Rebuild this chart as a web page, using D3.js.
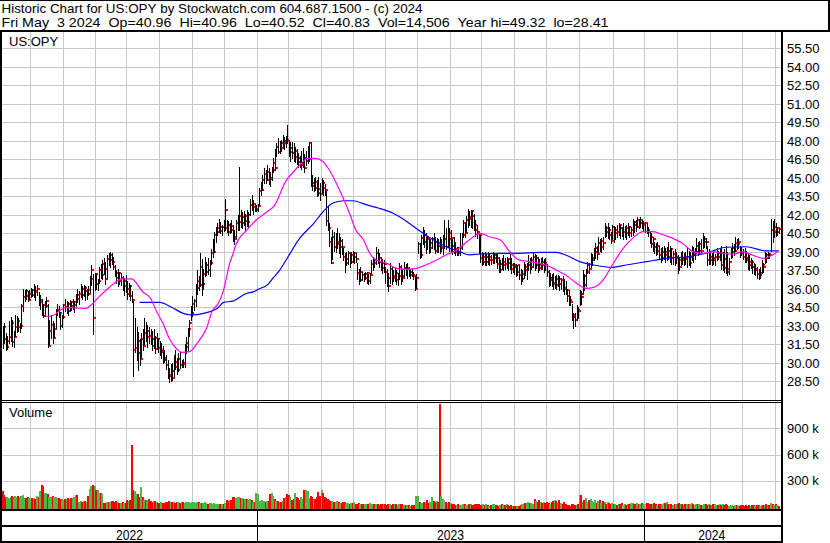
<!DOCTYPE html>
<html><head><meta charset="utf-8">
<script src="https://cdn.jsdelivr.net/npm/d3@7"></script>
<style>
html,body{margin:0;padding:0;background:#fff;}
svg{display:block;}
text{font-family:"Liberation Sans",Arial,sans-serif;fill:#000;}
</style></head><body>
<svg id="c" width="830" height="543"></svg>
<script>
// ---- data (daily bars, oldest first) ----
const highs=[
33.0,33.2,32.4,32.2,33.4,33.7,33.5,32.6,33.9,33.8,
33.6,33.2,34.8,36.0,35.9,36.0,35.8,35.9,36.1,36.0,
36.4,36.2,36.3,35.7,35.5,35.2,34.8,35.0,35.3,34.8,
33.5,33.9,33.4,33.2,34.4,34.8,34.6,34.1,33.9,34.8,
35.2,35.0,34.9,35.1,35.0,35.2,35.0,35.6,36.0,35.8,
36.4,36.2,36.3,36.2,36.0,36.2,37.0,37.9,37.2,37.3,
37.2,36.8,37.8,38.0,38.3,38.5,38.2,38.7,38.9,39.0,
38.9,38.6,37.9,37.5,37.6,37.4,37.3,37.0,36.9,37.1,
36.6,36.5,36.3,35.8,35.0,33.6,32.9,32.5,31.9,32.4,
32.7,33.6,33.3,33.1,32.9,32.7,32.6,32.7,32.2,32.4,
32.0,31.8,31.6,31.4,31.0,30.6,30.2,29.6,29.9,30.0,
30.6,31.0,30.4,30.8,30.9,30.2,30.3,31.5,32.1,32.8,
33.5,34.6,35.4,35.2,36.4,37.5,37.0,38.9,38.4,37.6,
38.6,38.2,38.5,38.3,39.2,40.0,40.6,41.0,41.3,41.7,
41.4,41.2,41.6,43.3,41.6,41.5,41.3,41.6,41.2,40.8,
41.6,42.0,45.9,42.4,42.2,42.3,42.1,42.4,42.2,43.3,
43.6,43.2,42.9,42.8,42.9,44.2,44.7,45.2,45.8,45.6,
46.0,45.8,45.5,45.9,46.6,47.3,47.8,48.2,48.0,48.1,
48.5,48.3,48.4,49.32,48.1,47.9,47.9,47.8,47.5,47.3,
47.0,46.8,47.2,47.4,46.9,47.2,47.6,47.9,47.9,45.2,
45.0,45.1,44.8,45.1,44.6,45.0,44.8,44.5,43.9,42.7,
41.3,40.2,40.8,40.6,40.5,40.9,40.5,40.2,40.0,39.3,
38.9,39.0,39.1,38.9,39.0,39.1,39.0,38.9,38.1,37.6,
37.8,37.4,37.3,37.4,37.4,37.2,37.3,38.3,38.6,38.5,
39.4,39.2,38.9,38.6,38.4,38.3,37.8,37.6,37.3,38.1,
37.8,37.5,37.7,37.5,37.3,38.1,37.9,37.6,38.2,38.0,
38.1,37.8,37.6,37.7,37.4,37.0,37.2,39.8,39.7,40.4,
41.0,40.8,40.5,40.2,40.1,40.0,40.2,40.5,40.2,40.1,
40.0,40.2,40.0,40.4,41.6,40.9,41.6,40.9,40.8,40.0,
40.2,39.8,39.4,39.4,40.5,40.5,41.6,41.4,41.9,42.5,
42.3,42.4,42.3,42.1,41.6,41.2,40.5,40.4,39.0,38.9,
39.0,38.8,39.0,38.9,38.7,39.0,38.9,38.8,38.9,38.6,
38.3,38.5,38.7,38.5,38.6,38.4,38.9,38.5,38.1,38.1,
38.0,37.9,37.9,37.6,37.5,38.2,38.0,38.1,38.7,38.5,
38.6,38.9,38.8,38.7,38.6,38.4,38.5,38.6,38.4,38.5,
38.0,37.5,37.3,37.2,37.3,37.0,37.1,37.1,37.0,36.9,
37.0,36.8,36.6,36.0,35.9,35.4,34.8,34.0,34.0,34.7,
34.5,35.9,35.8,37.5,37.2,37.6,38.2,38.1,38.9,38.8,
39.3,39.7,39.5,40.2,40.0,40.1,40.2,41.3,41.1,41.3,
41.0,40.6,41.2,41.1,41.0,41.2,41.3,41.2,41.0,41.3,
41.1,41.2,41.3,41.1,41.0,41.7,41.5,41.6,41.8,41.7,
41.8,41.6,41.5,41.4,41.3,41.0,40.6,40.5,40.2,39.8,
39.7,39.8,39.5,39.3,39.4,39.5,39.3,39.4,39.8,39.5,
39.3,39.1,39.2,39.0,38.7,38.6,39.0,39.1,38.9,39.0,
39.3,39.1,39.0,39.5,39.4,39.3,40.1,39.8,39.9,40.0,
40.5,40.3,40.1,39.5,39.2,39.1,38.9,39.0,38.8,39.3,
39.1,39.2,39.5,39.0,39.2,39.5,39.0,38.5,39.3,39.7,
39.6,40.2,40.0,40.1,39.5,39.4,39.2,39.3,39.1,38.9,
38.7,38.5,38.3,38.1,38.0,37.8,37.6,37.8,38.3,38.1,
39.0,38.9,39.0,38.9,41.7,41.5,41.7,41.3,41.0,40.96];
const lows=[
31.2,31.6,31.0,31.1,31.6,31.8,31.4,31.3,32.2,32.5,
32.6,32.5,32.8,34.2,35.0,35.2,35.0,35.2,35.3,35.4,
35.3,35.1,35.5,34.7,34.4,33.9,33.7,33.8,34.5,31.3,
31.5,32.0,31.6,32.1,32.8,33.9,33.7,32.7,32.9,33.6,
34.2,34.0,33.9,34.2,34.3,34.4,34.1,34.6,34.9,34.8,
35.3,35.2,35.4,35.1,35.2,35.5,35.7,36.3,32.3,35.9,
36.0,35.9,36.5,36.9,36.8,37.2,36.4,36.9,37.9,37.8,
38.0,37.6,37.0,36.5,36.2,36.4,36.3,35.9,35.5,35.7,
35.2,35.4,35.1,34.9,28.9,30.9,30.2,29.4,29.8,30.5,
31.0,31.5,31.8,31.3,31.6,31.5,31.0,31.2,30.8,31.1,
30.9,30.6,30.4,30.0,30.1,29.5,28.8,28.41,28.5,28.6,
28.9,29.5,29.1,29.3,29.6,29.7,29.7,29.7,30.8,31.0,
32.2,33.5,33.8,34.3,34.6,35.6,35.9,36.2,35.5,36.0,
37.0,37.1,37.2,37.0,38.0,38.6,39.0,39.8,40.4,40.6,
40.5,40.4,40.7,40.8,40.6,40.4,40.5,40.6,39.9,39.6,
40.1,40.8,40.8,41.0,40.9,41.2,40.8,41.1,41.0,42.0,
42.4,42.1,42.3,42.3,42.3,42.8,43.6,44.0,44.6,44.6,
44.8,44.5,44.3,44.8,45.5,45.6,46.8,47.0,47.0,47.2,
47.4,47.3,47.5,47.8,46.8,46.4,46.6,46.4,46.3,46.1,
45.9,45.9,45.7,45.9,45.5,46.0,46.2,46.4,44.3,44.0,
43.9,44.0,43.5,43.6,43.2,43.8,43.6,43.6,41.2,40.8,
39.5,38.1,38.4,39.1,39.0,39.3,38.9,38.6,38.8,38.3,
37.4,37.9,38.0,37.8,38.1,38.2,38.1,38.2,36.8,36.4,
36.6,36.7,36.6,36.8,36.5,36.4,36.5,37.3,37.5,37.8,
38.0,38.1,37.8,37.5,37.3,37.4,36.5,36.2,35.8,36.5,
36.4,36.6,36.6,36.4,36.3,36.8,36.4,36.6,37.0,37.1,
36.9,37.0,36.9,37.0,36.8,35.9,36.1,38.9,38.5,38.6,
39.6,39.4,38.9,39.2,38.9,39.0,39.3,39.2,38.9,39.0,
39.0,38.9,39.1,38.8,39.3,39.2,39.4,39.1,39.0,38.8,
38.9,38.7,38.7,38.7,38.7,39.2,40.2,40.2,40.6,41.0,
41.2,41.0,40.9,40.8,40.3,40.1,38.9,38.2,37.9,38.0,
37.9,37.9,38.0,37.9,38.0,38.1,38.1,38.2,37.7,37.4,
37.4,37.6,37.5,37.6,37.7,37.5,37.6,37.3,37.4,37.2,
37.0,37.1,36.8,36.4,36.6,36.9,37.1,36.8,37.5,37.3,
37.6,37.8,37.5,37.7,37.4,37.5,37.6,37.6,37.4,37.5,
37.0,36.2,36.3,36.2,36.0,36.1,36.0,36.2,35.9,36.0,
35.8,35.6,35.6,35.0,34.7,34.7,33.5,32.8,33.0,33.5,
33.6,34.7,34.8,35.6,35.9,36.2,37.3,37.3,37.8,37.9,
38.3,38.5,38.4,39.0,39.1,39.0,39.2,40.2,40.3,40.1,
40.0,39.7,40.0,39.8,40.0,40.2,40.4,40.1,40.3,40.0,
40.2,40.0,40.4,40.2,40.3,40.4,40.6,40.7,41.0,40.9,
41.0,40.9,40.8,40.6,40.5,40.3,39.7,39.4,39.1,38.9,
38.7,38.8,38.5,38.2,38.3,38.4,38.2,38.3,38.4,38.2,
38.0,38.0,37.9,38.1,37.3,37.5,37.9,38.0,37.9,38.0,
37.8,37.9,37.8,38.3,38.2,38.4,38.9,38.7,38.8,38.9,
39.3,39.4,39.3,37.9,38.0,38.0,37.9,38.0,37.9,38.3,
38.4,38.3,37.6,37.5,37.4,37.3,37.1,37.2,38.5,38.6,
38.7,39.1,39.2,39.3,38.6,38.7,38.4,38.2,38.2,37.6,
37.5,37.7,37.3,37.2,37.1,36.9,36.8,36.9,37.3,37.4,
38.1,38.2,38.5,38.5,39.1,39.8,40.2,40.3,40.4,40.52];
const closes=[
32.9,31.9,31.3,31.8,32.1,33.2,31.7,32.1,32.9,33.4,
32.9,33.0,34.6,35.3,35.8,35.4,35.1,35.6,35.9,35.5,
35.8,35.7,36.0,34.9,35.1,34.7,33.8,34.6,35.0,31.4,
32.6,33.1,32.0,32.7,34.2,34.3,34.0,33.0,33.7,34.7,
34.5,34.8,34.2,34.9,34.6,34.7,34.9,35.5,35.2,35.6,
36.0,35.5,36.1,35.8,35.9,35.6,36.8,37.5,33.6,37.2,
36.4,36.6,37.5,37.1,38.0,37.6,36.8,38.4,38.3,38.7,
38.2,37.8,37.3,36.9,37.3,36.6,36.9,36.2,36.6,36.0,
35.6,36.2,35.4,35.1,31.0,31.2,31.8,30.8,30.3,31.9,
31.4,32.4,32.1,32.6,32.2,31.9,31.4,32.0,31.1,31.9,
31.2,30.9,31.0,30.4,30.2,29.8,29.0,28.9,29.3,28.8,
30.1,29.7,29.4,30.3,29.8,30.0,29.9,31.3,31.6,32.7,
33.2,34.0,34.8,35.0,36.1,36.6,36.3,37.8,36.4,37.2,
37.4,37.9,37.5,38.1,38.9,39.0,40.4,40.6,40.9,41.0,
40.7,41.0,40.9,42.4,41.2,40.6,41.1,40.8,40.2,40.0,
41.3,41.4,41.9,41.3,41.8,41.5,41.9,41.4,42.0,42.8,
42.6,42.9,42.4,42.5,42.7,43.9,44.0,44.8,45.3,44.8,
45.5,45.0,44.9,45.6,46.2,45.8,47.5,47.1,47.8,47.4,
48.0,47.8,48.1,48.0,47.1,47.4,47.0,46.7,47.2,46.6,
46.3,46.0,46.2,46.6,45.8,46.4,46.5,47.8,44.6,44.3,
44.7,44.2,44.1,43.8,43.7,44.6,44.2,44.0,41.5,40.9,
39.8,38.1,40.2,39.4,39.6,39.8,39.4,39.9,39.4,38.6,
38.1,38.4,38.9,38.2,38.7,38.6,38.9,38.4,37.3,36.7,
37.4,37.1,36.9,37.2,37.3,36.6,37.1,38.0,38.3,38.1,
38.9,38.5,38.2,38.1,37.7,38.0,37.4,36.9,36.2,37.6,
37.0,36.9,37.3,36.7,37.0,37.8,37.0,36.9,37.7,37.6,
37.7,37.1,37.4,37.1,37.0,36.0,36.9,39.6,38.7,40.1,
40.4,39.8,40.2,40.0,39.3,39.7,40.0,39.8,39.1,39.7,
39.5,39.3,39.4,40.0,40.0,39.4,40.5,40.0,40.1,39.5,
39.2,39.0,39.0,38.9,39.3,40.4,41.3,40.5,41.6,41.8,
41.7,42.3,41.9,41.2,40.8,40.6,40.4,38.5,38.2,38.6,
38.2,38.6,38.3,38.6,38.3,38.5,38.7,38.5,38.0,37.5,
38.0,37.9,38.2,38.0,38.4,38.1,37.9,37.6,37.9,37.8,
37.4,37.9,37.1,36.8,37.2,37.8,37.5,37.9,38.2,37.8,
38.3,38.6,37.9,38.5,37.9,37.7,38.2,37.9,38.1,37.9,
37.4,36.7,36.9,36.5,36.4,36.8,36.3,36.8,36.4,36.7,
36.1,36.0,35.9,35.4,35.1,34.9,33.9,33.7,33.5,34.3,
34.2,35.6,35.3,37.0,36.3,37.4,37.9,37.6,38.3,38.5,
39.0,39.3,38.8,39.7,39.4,39.9,39.7,40.9,40.6,40.8,
40.4,39.9,41.0,40.5,40.8,40.6,41.2,40.9,40.6,40.6,
40.9,40.5,41.0,40.5,40.8,41.4,41.2,41.0,41.6,41.3,
41.6,41.2,41.3,41.3,40.8,40.6,40.2,39.6,40.0,39.4,
39.1,39.5,38.7,38.5,39.0,39.0,38.7,39.1,38.6,39.2,
38.5,38.8,38.5,38.6,38.3,37.8,38.5,38.3,38.6,38.4,
38.6,38.1,38.6,39.0,38.8,39.0,39.5,39.1,39.6,39.1,
39.8,40.0,39.8,38.3,38.6,38.3,38.5,38.3,38.6,38.9,
38.6,38.9,37.9,38.4,37.7,37.6,37.4,38.2,39.0,39.3,
39.1,39.7,39.6,39.8,39.0,38.9,38.6,38.5,38.3,38.2,
37.9,38.2,37.8,37.5,37.6,37.2,37.1,37.3,37.9,37.8,
38.7,38.5,38.8,38.7,40.8,40.6,41.0,40.6,40.9,40.83];
// volume in thousands of shares
const volumes=[
185,140,110,115,105,120,125,115,130,120,
125,110,130,135,105,100,110,108,95,100,
100,95,125,120,180,255,235,165,165,150,
120,115,125,110,120,100,105,95,90,85,
95,90,100,95,105,100,110,140,135,60,
65,55,65,70,60,125,210,235,255,240,
200,190,165,160,150,45,50,60,55,60,
65,70,60,65,55,50,45,55,50,45,
75,70,80,710,190,180,150,145,110,230,
110,85,80,75,90,65,60,70,65,60,
50,45,55,50,45,60,55,65,60,55,
55,50,60,55,50,55,60,50,55,60,
55,50,60,55,50,55,60,50,45,50,
55,45,40,45,50,40,45,40,35,40,
40,35,40,45,75,70,75,80,120,110,
105,115,110,100,105,95,90,90,85,95,
75,60,55,155,150,70,65,75,70,60,
70,65,145,160,130,90,70,65,60,55,
70,100,120,150,140,110,80,90,160,110,
100,80,120,90,200,190,180,100,130,120,
90,95,110,170,130,200,160,110,100,90,
80,70,65,60,55,70,60,50,45,55,
60,50,45,40,50,45,55,40,35,45,
40,35,30,40,35,30,45,40,35,30,
35,30,25,30,35,40,30,25,35,30,
25,30,35,30,25,30,35,30,20,25,
20,25,15,20,25,20,125,130,55,50,
45,60,55,85,50,60,120,70,55,65,
60,1180,125,90,80,60,50,55,45,35,
30,25,20,30,25,20,35,30,25,20,
30,35,25,20,30,40,35,25,20,30,
25,30,20,15,25,30,35,25,20,15,
25,30,20,25,30,20,15,25,10,8,
10,8,12,20,30,40,45,50,55,45,
50,40,90,70,55,80,60,45,55,50,
60,45,40,55,70,80,65,50,75,45,
40,55,30,20,25,15,30,35,25,20,
30,135,140,60,85,100,55,80,95,70,
60,75,50,65,80,45,70,55,40,60,
50,35,45,30,40,25,35,30,45,20,
30,25,40,35,45,50,40,35,45,40,
35,45,40,30,50,45,35,30,40,45,
30,25,40,35,30,45,50,55,40,35,
30,25,35,40,30,45,35,30,25,35,
40,30,35,45,30,25,35,40,30,25,
20,30,35,25,30,20,25,30,35,20,
25,30,20,35,25,30,20,15,25,20,
15,20,25,20,15,20,25,15,20,15,
20,15,25,20,15,20,25,15,20,25,
20,30,25,20,50,35,25,30,20,14.5];
// moving averages: [day index, value]
const maPink=[[28,33.74],[33,33.88],[37,34.28],[41,34.47],[53,34.42],[58,34.82],[62,35.36],[69,36.17],[73,36.58],[77,36.8],[83,36.8],[86,36.45],[90,35.76],[95,35.23],[99,34.14],[103,33.2],[107,31.99],[112,31.1],[115,30.85],[120,30.9],[125,31.58],[131,32.8],[135,34.28],[138,34.7],[142,35.9],[144,37.0],[146,38.1],[148,38.8],[150,39.6],[157,40.77],[163,41.58],[170,42.25],[175,42.8],[178,43.6],[181,44.5],[187,45.49],[192,46.18],[196,46.58],[201,46.58],[206,46.31],[210,45.63],[215,44.42],[219,43.34],[223,42.12],[227,40.77],[232,39.96],[236,38.88],[240,38.34],[247,38.07],[253,37.66],[260,37.58],[266,37.66],[272,37.93],[279,38.34],[285,38.74],[292,39.15],[300,39.96],[307,40.5],[313,40.22],[320,39.96],[326,39.01],[332,38.34],[339,38.2],[345,38.07],[352,37.79],[356,37.52],[362,37.12],[369,36.45],[375,36.04],[380,36.12],[386,36.71],[392,37.93],[399,39.28],[405,40.09],[412,40.63],[418,40.63],[425,40.36],[431,40.09],[437,39.69],[444,39.01],[450,38.88],[457,39.01],[463,38.88],[470,38.82],[476,39.01],[482,38.74],[489,38.47],[495,38.74],[499,39.07]];
const maBlue=[[88,34.9],[101,34.9],[108,34.55],[116,34.01],[122,33.88],[129,34.01],[138,34.42],[142,34.9],[148,35.0],[157,35.64],[161,35.75],[165,36.0],[170,36.3],[174,36.9],[178,37.5],[183,38.5],[191,40.1],[200,41.31],[206,42.25],[212,42.93],[219,43.14],[225,43.14],[234,42.8],[242,42.53],[251,42.12],[260,41.44],[268,40.71],[277,39.96],[285,39.41],[294,39.01],[300,38.75],[307,38.82],[320,38.88],[332,38.88],[345,38.96],[356,38.96],[362,38.74],[371,38.2],[380,37.93],[392,37.74],[401,37.93],[414,38.2],[427,38.47],[440,38.6],[452,38.88],[465,39.37],[478,39.41],[491,39.07],[499,39.07]];
const priceTicks=["28.50","30.00","31.50","33.00","34.50","36.00","37.50","39.00","40.50","42.00","43.50","45.00","46.50","48.00","49.50","51.00","52.50","54.00","55.50"];
const volTicks=[300,600,900];
const volTickLabels=["300 k","600 k","900 k"];
const monthStarts=[18,39,60,80,101,122,143,164,184,205,226,246,267,288,308,329,350,371,393,413,434,455,476,497];
const yearStarts=[0,164,413];
const yearLabels=["2022","2023","2024"];
const headerLines=["Historic Chart for US:OPY by Stockwatch.com 604.687.1500 - (c) 2024",
"Fri May  3 2024  Op=40.96  Hi=40.96  Lo=40.52  Cl=40.83  Vol=14,506  Year hi=49.32  lo=28.41"];
const headerWidths=[421,607];
const symbol="US:OPY";
const volTitle="Volume";

// ---- drawing ----
const svg=d3.select("#c");
const N=closes.length;
const x=d3.scaleLinear().domain([0,N]).range([2,779.5]);
const y=d3.scaleLinear().domain([28.5,55.5]).range([381.3,48.3]);
const yv=d3.scaleLinear().domain([0,900]).range([507,428.3]);
const L=2,R=781;
const grid="#c8c8c8";

svg.append("rect").attr("width",830).attr("height",543).attr("fill","#fff");

// gridlines
const gg=svg.append("g").attr("shape-rendering","crispEdges").attr("stroke",grid).attr("stroke-width",1);
gg.selectAll(".hp").data(priceTicks).join("line").attr("class","hp")
  .attr("x1",L).attr("x2",R).attr("y1",d=>Math.round(y(+d))+0.5).attr("y2",d=>Math.round(y(+d))+0.5);
gg.selectAll(".vp").data(monthStarts).join("line").attr("class","vp")
  .attr("x1",d=>Math.round(x(d))+0.5).attr("x2",d=>Math.round(x(d))+0.5).attr("y1",32).attr("y2",400);
gg.selectAll(".vv").data(monthStarts).join("line").attr("class","vv")
  .attr("x1",d=>Math.round(x(d))+0.5).attr("x2",d=>Math.round(x(d))+0.5).attr("y1",403).attr("y2",509);
gg.selectAll(".hv").data(volTicks).join("line").attr("class","hv")
  .attr("x1",L).attr("x2",R).attr("y1",d=>Math.round(yv(d))+0.5).attr("y2",d=>Math.round(yv(d))+0.5);

const days=closes.map((c,i)=>({i,h:highs[i],l:lows[i],c,v:volumes[i],prev:i?closes[i-1]:c+0.1}));

// volume bars
svg.append("g").attr("shape-rendering","crispEdges").selectAll("rect").data(days).join("rect")
  .attr("x",d=>Math.round(x(d.i+0.5))-1).attr("width",2)
  .attr("y",d=>Math.min(508,Math.round(yv(d.v)))).attr("height",d=>509-Math.min(508,Math.round(yv(d.v))))
  .attr("fill",d=>d.c>d.prev?"#4cb848":(d.c<d.prev?"#ff0000":"#a0a0a0"));

// price bars with close marks
const bg=svg.append("g").attr("shape-rendering","crispEdges");
const bars=bg.selectAll("g").data(days).join("g");
bars.append("rect").attr("x",d=>Math.round(x(d.i+0.5))).attr("width",1)
  .attr("y",d=>Math.round(y(d.h))).attr("height",d=>Math.max(1,Math.round(y(d.l))-Math.round(y(d.h))+1))
  .attr("fill","#000");
bars.append("rect").attr("x",d=>Math.round(x(d.i+0.5))+1).attr("width",2)
  .attr("y",d=>Math.round(y(d.c))-1).attr("height",2).attr("fill","#ff0000");

// moving averages
const line=d3.line().x(d=>x(d[0]+0.5)).y(d=>y(d[1])).curve(d3.curveMonotoneX);
svg.append("path").datum(maBlue).attr("d",line).attr("fill","none").attr("stroke","#0000ff").attr("stroke-width",1.2);
svg.append("path").datum(maPink).attr("d",line).attr("fill","none").attr("stroke","#ff00ff").attr("stroke-width",1.2);

// frame
const fr=svg.append("g").attr("stroke","#000").attr("shape-rendering","crispEdges");
fr.append("line").attr("x1",0).attr("x2",830).attr("y1",0.5).attr("y2",0.5).attr("stroke-width",1);
fr.append("line").attr("x1",828.5).attr("x2",828.5).attr("y1",0).attr("y2",31).attr("stroke-width",2);
fr.append("line").attr("x1",0).attr("x2",830).attr("y1",31).attr("y2",31).attr("stroke-width",2);
fr.append("line").attr("x1",1).attr("x2",1).attr("y1",30).attr("y2",543).attr("stroke-width",2);
fr.append("line").attr("x1",781.5).attr("x2",781.5).attr("y1",30).attr("y2",543).attr("stroke-width",2);
fr.append("line").attr("x1",0).attr("x2",R).attr("y1",400.5).attr("y2",400.5).attr("stroke-width",1);
fr.append("line").attr("x1",0).attr("x2",R).attr("y1",402.5).attr("y2",402.5).attr("stroke-width",1);
fr.append("line").attr("x1",0).attr("x2",R).attr("y1",510).attr("y2",510).attr("stroke-width",2);
fr.append("line").attr("x1",0).attr("x2",R).attr("y1",526).attr("y2",526).attr("stroke-width",2);
fr.append("line").attr("x1",0).attr("x2",R).attr("y1",542).attr("y2",542).attr("stroke-width",2);
fr.selectAll(".ys").data(yearStarts.slice(1)).join("line").attr("class","ys")
  .attr("x1",d=>Math.round(x(d))+0.5).attr("x2",d=>Math.round(x(d))+0.5).attr("y1",510).attr("y2",542).attr("stroke-width",1);

// texts
const ht=svg.append("g").style("font-size","13.5px");
ht.selectAll("text").data(headerLines).join("text")
  .attr("x",1.5).attr("y",(d,i)=>12.5+i*14)
  .attr("textLength",(d,i)=>headerWidths[i]).attr("lengthAdjust","spacingAndGlyphs")
  .text(d=>d.replace(/ /g,"\u00a0"));
svg.append("text").attr("x",9).attr("y",46).style("font-size","13px").text(symbol);
svg.append("text").attr("x",9).attr("y",417).style("font-size","13px").text(volTitle);
svg.append("g").style("font-size","13px").selectAll("text").data(priceTicks).join("text")
  .attr("x",787).attr("y",d=>y(+d)+4.7).text(d=>d);
svg.append("g").style("font-size","13px").selectAll("text").data(volTicks).join("text")
  .attr("x",787).attr("y",d=>yv(d)+4.7).text((d,i)=>volTickLabels[i]);
const yEnds=yearStarts.slice(1).concat([N]);
svg.append("g").style("font-size","15px").selectAll("text").data(yearLabels).join("text")
  .attr("x",(d,i)=>(x(yearStarts[i])+Math.min(R,x(yEnds[i])))/2).attr("y",540)
  .attr("text-anchor","middle").attr("textLength",27).attr("lengthAdjust","spacingAndGlyphs").text(d=>d);
</script>
</body></html>
